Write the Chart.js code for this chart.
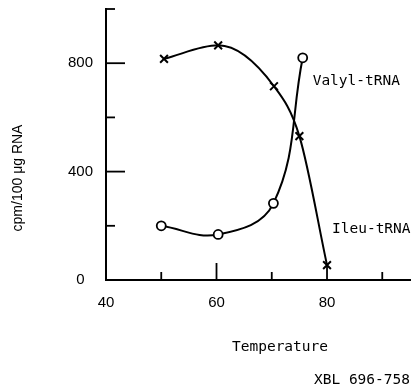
<!DOCTYPE html>
<html>
<head>
<meta charset="utf-8">
<script src="https://cdn.jsdelivr.net/npm/chart.js@4"></script>
<style>
  body { margin: 0; background: #fff; }
  canvas { display: block; }
</style>
</head>
<body>
<canvas id="chart" width="411" height="388"></canvas>
<script>
// Ileu-tRNA (crosses)
const ileuTemp = [50.5, 60.3, 70.4, 75, 80];
const ileuCpm = [816, 866, 715, 531, 55];

// Valyl-tRNA (circles)
const valylTemp = [50, 60.3, 70.3, 75.6];
const valylCpm = [200, 168, 283, 820];

// ticks
const xTicks = [40, 50, 60, 70, 80, 90];
const xLabels = [40, 60, 80];
const yTicks = [0, 200, 400, 600, 800, 1000];
const yLabels = [0, 400, 800];

const mono = "DejaVu Sans Mono";
const sans = "Liberation Sans";

function toPoints(xs, ys) {
    return xs.map((x, i) => ({ x: x, y: ys[i] }));
}

// petits traits vers l'intérieur + textes libres
const extras = {
    id: "extras",
    afterDraw(chart) {
        const ctx = chart.ctx;
        const xs = chart.scales.x;
        const ys = chart.scales.y;
        const area = chart.chartArea;
        ctx.save();
        ctx.strokeStyle = "#000";
        ctx.lineWidth = 1.8;
        xTicks.forEach(v => {
            if (v === 40) return;
            const px = xs.getPixelForValue(v);
            const len = xLabels.includes(v) ? 17 : 8;
            ctx.beginPath();
            ctx.moveTo(px, area.bottom);
            ctx.lineTo(px, area.bottom - len);
            ctx.stroke();
        });
        yTicks.forEach(v => {
            if (v === 0) return;
            const py = ys.getPixelForValue(v);
            const len = yLabels.includes(v) ? 19 : 9;
            ctx.beginPath();
            ctx.moveTo(area.left, py);
            ctx.lineTo(area.left + len, py);
            ctx.stroke();
        });

        ctx.fillStyle = "#000";
        ctx.textBaseline = "middle";
        ctx.font = "14.5px '" + mono + "'";
        ctx.textAlign = "left";
        ctx.fillText("Valyl-tRNA", xs.getPixelForValue(77.4), ys.getPixelForValue(735));
        ctx.fillText("Ileu-tRNA", xs.getPixelForValue(80.9), ys.getPixelForValue(188));
        ctx.textAlign = "center";
        ctx.fillText("Temperature", 280, 347);
        ctx.textAlign = "right";
        ctx.fillText("XBL 696-758", 410, 380);

        ctx.translate(18, 178);
        ctx.rotate(-Math.PI / 2);
        ctx.textAlign = "center";
        ctx.font = "14px '" + sans + "'";
        ctx.fillText("cpm/100 \u03bcg RNA", 0, 0);
        ctx.restore();
    }
};

new Chart(document.getElementById("chart"), {
    type: "line",
    data: {
        datasets: [
            {
                label: "Ileu-tRNA",
                data: toPoints(ileuTemp, ileuCpm),
                borderColor: "#000",
                borderWidth: 2,
                cubicInterpolationMode: "monotone",
                pointStyle: "crossRot",
                pointRadius: 5.5,
                pointBorderWidth: 2,
                pointBorderColor: "#000",
                clip: false
            },
            {
                label: "Valyl-tRNA",
                data: toPoints(valylTemp, valylCpm),
                borderColor: "#000",
                borderWidth: 2,
                tension: 0.4,
                pointStyle: "circle",
                pointRadius: 4.5,
                pointBorderWidth: 1.8,
                pointBorderColor: "#000",
                pointBackgroundColor: "#fff",
                clip: false
            }
        ]
    },
    options: {
        responsive: false,
        animation: false,
        devicePixelRatio: 1,
        layout: { autoPadding: false, padding: { top: 9, right: 0, bottom: 0, left: 0 } },
        plugins: {
            legend: { display: false },
            tooltip: { enabled: false },
            title: { display: false }
        },
        scales: {
            x: {
                type: "linear",
                min: 40,
                max: 95.2,
                afterBuildTicks: s => { s.ticks = xTicks.map(v => ({ value: v })); },
                afterFit: s => { s.height = 108; s.paddingLeft = 0; s.paddingRight = 0; },
                ticks: {
                    callback: v => xLabels.includes(v) ? String(v) : null,
                    color: "#000",
                    font: { family: sans, size: 15 },
                    padding: 14,
                    maxRotation: 0,
                    autoSkip: false
                },
                grid: { drawOnChartArea: false, drawTicks: false },
                border: { display: true, color: "#000", width: 2 }
            },
            y: {
                type: "linear",
                min: 0,
                max: 1000,
                afterBuildTicks: s => { s.ticks = yTicks.map(v => ({ value: v })); },
                afterFit: s => { s.width = 106; s.paddingTop = 0; s.paddingBottom = 0; },
                ticks: {
                    callback: v => yLabels.includes(v) ? String(v) : null,
                    color: "#000",
                    font: { family: sans, size: 15 },
                    padding: 13,
                    crossAlign: "center",
                    autoSkip: false
                },
                grid: { drawOnChartArea: false, drawTicks: false },
                border: { display: true, color: "#000", width: 2 }
            }
        }
    },
    plugins: [extras]
});
</script>
</body>
</html>
